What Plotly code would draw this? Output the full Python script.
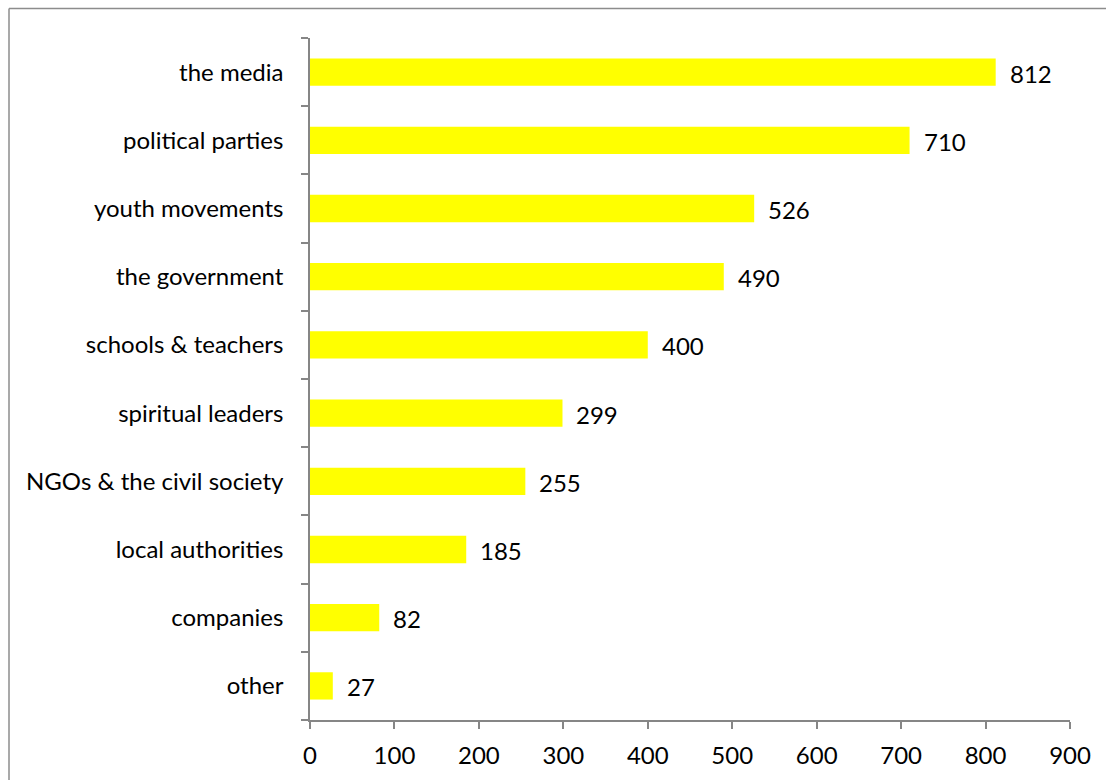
import plotly.graph_objects as go

categories = [
    "the media", "political parties", "youth movements", "the government",
    "schools & teachers", "spiritual leaders", "NGOs & the civil society",
    "local authorities", "companies", "other",
]
values = [812, 710, 526, 490, 400, 299, 255, 185, 82, 27]
x_ticks = [0, 100, 200, 300, 400, 500, 600, 700, 800, 900]

W, H = 1106, 780
L, R, T, B = 310, 36, 38, 60
FONT = "Lato, Open Sans, sans-serif"
FS = 24
AXIS = "#868686"

fig = go.Figure(
    go.Bar(
        y=categories,
        x=values,
        orientation="h",
        marker=dict(color="#FFFF00", line=dict(width=0)),
        hoverinfo="x+y",
    )
)

# value labels just right of each bar
for c, v in zip(categories, values):
    fig.add_annotation(
        x=v, y=c, text=str(v), showarrow=False, xanchor="left", xshift=12,
        yshift=-1,
        font=dict(size=FS, color="#000000", family=FONT),
    )

# outer chart frame (runs off the right and bottom of the page)
px = lambda x: (x - L) / (W - L - R)
py = lambda y: 1 - (y - T) / (H - T - B)
fig.add_shape(type="line", xref="paper", yref="paper",
              x0=px(9), x1=px(W + 5), y0=py(8.5), y1=py(8.5),
              line=dict(color="#8c8c8c", width=1.5))
fig.add_shape(type="line", xref="paper", yref="paper",
              x0=px(9), x1=px(9), y0=py(8.5), y1=py(H + 5),
              line=dict(color="#8c8c8c", width=1.5))

fig.update_layout(
    width=W, height=H,
    margin=dict(l=L, r=R, t=T, b=B),
    paper_bgcolor="white", plot_bgcolor="white",
    bargap=0.6,
    showlegend=False,
    font=dict(family=FONT, size=FS, color="#000000"),
    xaxis=dict(
        range=[0, 900], tickvals=x_ticks, showgrid=False, zeroline=False,
        showline=True, linecolor=AXIS, linewidth=1.5,
        ticks="outside", ticklen=7, tickcolor=AXIS, tickwidth=1.5,
        ticklabelstandoff=6,
        tickfont=dict(size=FS, family=FONT, color="#000000"),
    ),
    yaxis=dict(
        categoryorder="array", categoryarray=categories[::-1],
        showgrid=False, zeroline=False,
        showline=True, linecolor=AXIS, linewidth=1.5,
        ticks="outside", ticklen=7, tickcolor=AXIS, tickwidth=1.5,
        tickson="boundaries", ticklabelstandoff=20,
        tickfont=dict(size=FS, family=FONT, color="#000000"),
    ),
)

fig.write_html("out.html")
